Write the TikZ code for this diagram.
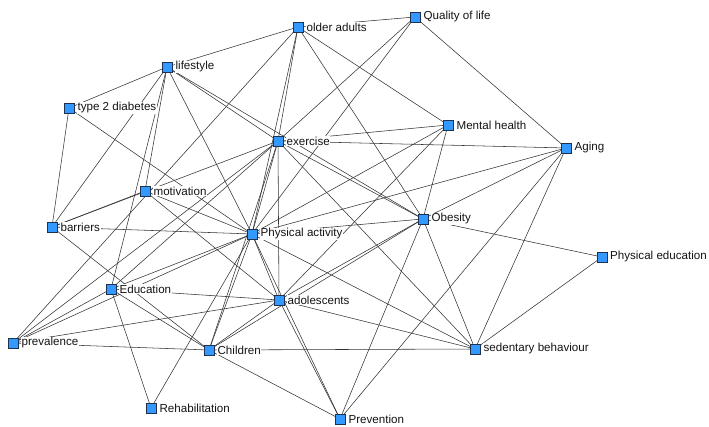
\documentclass[tikz,border=0pt]{standalone}
\usepackage{fontspec}
\setmainfont{Liberation Sans}
\definecolor{nodeblue}{RGB}{51,153,255}
\definecolor{nodeedge}{RGB}{30,50,80}
\pgfdeclarelayer{bg}
\pgfsetlayers{bg,main}
\tikzset{
  sq/.style={rectangle, draw=nodeedge, fill=nodeblue, minimum size=10pt, inner sep=0pt, line width=0.6pt},
  lbl/.style={anchor=west, fill=white, inner sep=0.6pt, font=\fontsize{11.6}{14}\selectfont, text=black!92},
  link/.style={draw=black!80, line width=0.55pt}
}
\begin{document}
\begin{tikzpicture}[x=1pt,y=-1pt]
\useasboundingbox (0,0) rectangle (709,427);
% squares
\node[sq] (oa)   at (298,27)  {};
\node[sq] (qol)  at (415,17)  {};
\node[sq] (ls)   at (167,67)  {};
\node[sq] (t2d)  at (69,108)  {};
\node[sq] (ex)   at (278,141) {};
\node[sq] (mh)   at (448,125) {};
\node[sq] (ag)   at (566,148) {};
\node[sq] (mot)  at (145,191) {};
\node[sq] (bar)  at (52,227)  {};
\node[sq] (pa)   at (252,234) {};
\node[sq] (ob)   at (423,219) {};
\node[sq] (pe)   at (602,257) {};
\node[sq] (edu)  at (111,289) {};
\node[sq] (ado)  at (279,300) {};
\node[sq] (prev) at (13,343)  {};
\node[sq] (ch)   at (209,350) {};
\node[sq] (sed)  at (475,349) {};
\node[sq] (reh)  at (151,408) {};
\node[sq] (pre)  at (340,419) {};
% labels
\node[lbl] (oa-l)   at ([xshift=2.5pt]oa.east)   {older adults};
\node[lbl] (qol-l)  at ([xshift=2.5pt]qol.east)  {Quality of life};
\node[lbl] (ls-l)   at ([xshift=2.5pt]ls.east)   {lifestyle};
\node[lbl] (t2d-l)  at ([xshift=2.5pt]t2d.east)  {type 2 diabetes};
\node[lbl] (ex-l)   at ([xshift=2.5pt]ex.east)   {exercise};
\node[lbl] (mh-l)   at ([xshift=2.5pt]mh.east)   {Mental health};
\node[lbl] (ag-l)   at ([xshift=2.5pt]ag.east)   {Aging};
\node[lbl] (mot-l)  at ([xshift=2.5pt]mot.east)  {motivation};
\node[lbl] (bar-l)  at ([xshift=2.5pt]bar.east)  {barriers};
\node[lbl] (pa-l)   at ([xshift=2.5pt]pa.east)   {Physical activity};
\node[lbl] (ob-l)   at ([xshift=2.5pt]ob.east)   {Obesity};
\node[lbl] (pe-l)   at ([xshift=2pt]pe.east)     {Physical education};
\node[lbl] (edu-l)  at ([xshift=2.5pt]edu.east)  {Education};
\node[lbl] (ado-l)  at ([xshift=2.5pt]ado.east)  {adolescents};
\node[lbl] (prev-l) at ([xshift=2.5pt]prev.east) {prevalence};
\node[lbl] (ch-l)   at ([xshift=2.5pt]ch.east)   {Children};
\node[lbl] (sed-l)  at ([xshift=2.5pt]sed.east)  {sedentary behaviour};
\node[lbl] (reh-l)  at ([xshift=2.5pt]reh.east)  {Rehabilitation};
\node[lbl] (pre-l)  at ([xshift=2.5pt]pre.east)  {Prevention};
% connectors
\begin{pgfonlayer}{bg}
\foreach \a/\b in {oa/ls, oa/qol, oa/mh, oa/ob, oa/ex, oa/pa, oa/prev,
  qol/ag, qol/ex, qol/pa,
  ls/t2d, ls/bar, ls/mot, ls/edu, ls/pa, ls/ex, ls/ob,
  t2d/bar, t2d/pa,
  mot/bar, mot/pa, mot/ado,
  ex/bar, ex/prev, ex/edu, ex/mh, ex/ag, ex/ob, ex/sed, ex/pa, ex/ado, ex/ch,
  mh/ob, mh/pa, mh/ado,
  ag/pa, ag/ob, ag/sed, ag/pre,
  ob/pe, ob/sed, ob/pre, ob/pa, ob/ado, ob/ch,
  pe/sed,
  bar/pa, bar/ch,
  pa/edu, pa/prev, pa/reh, pa/ch, pa/ado, pa/pre, pa/sed,
  edu/prev, edu/ch, edu/ado, edu/reh,
  prev/ado, prev/ch,
  ch/ado, ch/sed, ch/pre,
  ado/sed, ado/pre}
  \draw[link] (\a.center) -- (\b.center);
\end{pgfonlayer}
\end{tikzpicture}
\end{document}
